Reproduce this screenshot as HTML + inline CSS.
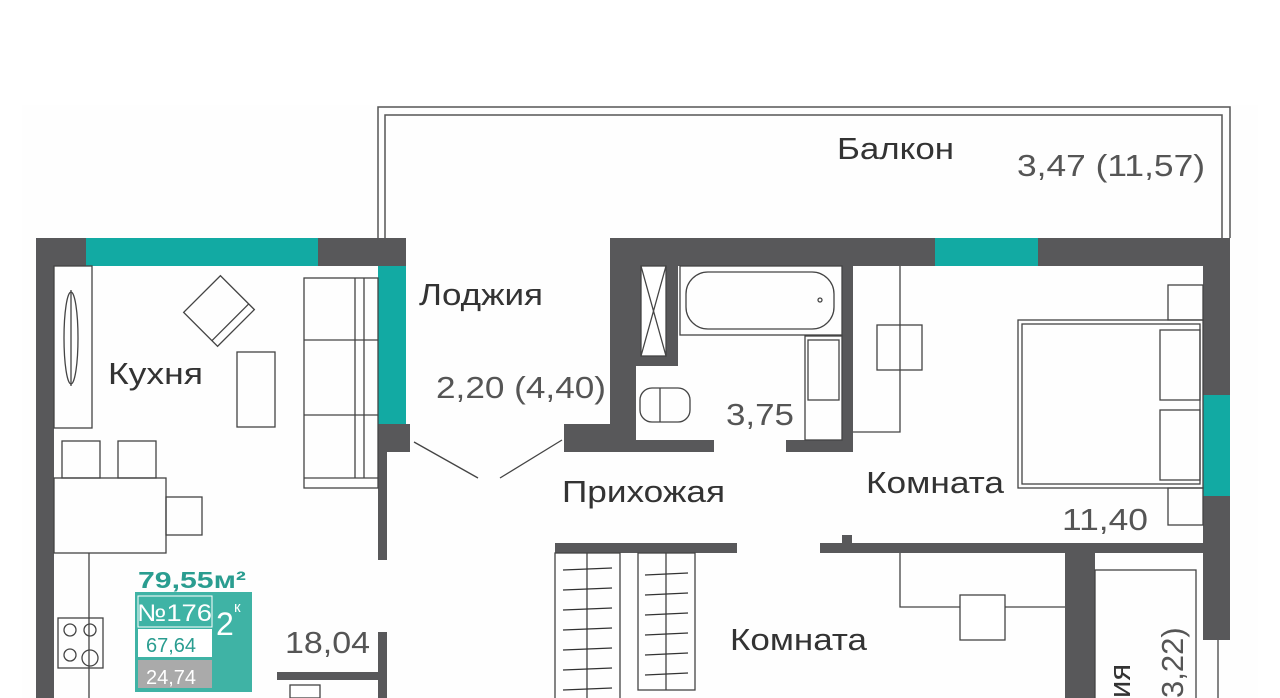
<!DOCTYPE html>
<html><head><meta charset="utf-8"><style>
html,body{margin:0;padding:0;background:#fff;}
svg{display:block;font-family:"Liberation Sans",sans-serif;}
</style></head><body>
<svg width="1280" height="698" viewBox="0 0 1280 698" xmlns="http://www.w3.org/2000/svg">
<rect x="0" y="0" width="1280" height="698" fill="#fff"/>
<rect x="22" y="105" width="1236" height="593" fill="#fefefe"/>
<g fill="none" stroke="#555" stroke-width="1.5">
<path d="M378 238 V107 H1230 V238"/>
<path d="M385 238 V115 H1222 V238"/>
</g>
<g fill="#58585a">
<rect x="36" y="238" width="18" height="460"/>
<rect x="36" y="238" width="370" height="28"/>
<rect x="378" y="238" width="28" height="28"/>
<rect x="378" y="424" width="32" height="28"/>
<rect x="378" y="452" width="9" height="108"/>
<rect x="378" y="632" width="9" height="66"/>
<rect x="277" y="672" width="110" height="8"/>
<rect x="564" y="424" width="72" height="28"/>
<rect x="610" y="238" width="26" height="214"/>
<rect x="610" y="238" width="620" height="28"/>
<rect x="636" y="266" width="42" height="100"/>
<rect x="636" y="440" width="78" height="12"/>
<rect x="786" y="440" width="67" height="12"/>
<rect x="842" y="266" width="11" height="186"/>
<rect x="1203" y="238" width="27" height="402"/>
<rect x="555" y="543" width="182" height="10"/>
<rect x="820" y="543" width="383" height="10"/>
<rect x="842" y="535" width="10" height="8"/>
<rect x="1065" y="553" width="30" height="145"/>
</g>
<g fill="#12aaa3">
<rect x="86" y="238" width="232" height="28"/>
<rect x="378" y="266" width="28" height="158"/>
<rect x="935" y="238" width="103" height="28"/>
<rect x="1203" y="395" width="27" height="101"/>
</g>
<g fill="none" stroke="#444" stroke-width="1.3">
<rect x="54" y="266" width="38" height="162"/>
<ellipse cx="71" cy="338" rx="7" ry="46"/>
<line x1="71" y1="290" x2="71" y2="386"/>
<rect x="62" y="441" width="38" height="37"/>
<rect x="118" y="441" width="38" height="37"/>
<rect x="54" y="478" width="112" height="75"/>
<rect x="166" y="497" width="36" height="38"/>
<line x1="89" y1="553" x2="89" y2="698"/>
<rect x="58" y="618" width="45" height="50"/>
<circle cx="70" cy="630" r="6"/><circle cx="90" cy="630" r="6"/>
<circle cx="70" cy="655" r="6"/><circle cx="90" cy="658" r="8"/>
<g transform="translate(219,311) rotate(-45)"><rect x="-26" y="-24" width="52" height="48"/><line x1="-26" y1="16" x2="26" y2="16"/></g>
<rect x="237" y="352" width="38" height="75"/>
<rect x="304" y="278" width="74" height="210"/>
<line x1="304" y1="340" x2="378" y2="340"/>
<line x1="304" y1="415" x2="378" y2="415"/>
<line x1="304" y1="478" x2="378" y2="478"/>
<line x1="355" y1="278" x2="355" y2="478"/>
<line x1="364" y1="278" x2="364" y2="478"/>
<rect x="290" y="685" width="30" height="13"/>
<line x1="414" y1="442" x2="478" y2="478"/>
<line x1="500" y1="478" x2="562" y2="440"/>
<rect x="641" y="266" width="25" height="90" fill="#fff"/>
<line x1="641" y1="266" x2="666" y2="356"/><line x1="666" y1="266" x2="641" y2="356"/>
<rect x="680" y="266" width="162" height="69"/>
<rect x="686" y="272" width="148" height="57" rx="22"/>
<circle cx="820" cy="300" r="2"/>
<rect x="805" y="336" width="37" height="104"/>
<rect x="808" y="340" width="31" height="60"/>
<rect x="640" y="388" width="50" height="34" rx="12"/>
<line x1="660" y1="388" x2="660" y2="422"/>
<polyline points="853,432 900,432 900,266"/>
<rect x="877" y="325" width="45" height="45"/>
<rect x="1018" y="320" width="185" height="168"/>
<rect x="1022" y="324" width="178" height="160"/>
<rect x="1160" y="330" width="40" height="70"/>
<rect x="1160" y="410" width="40" height="70"/>
<rect x="1168" y="285" width="35" height="35"/>
<rect x="1168" y="488" width="35" height="37"/>
<rect x="555" y="553" width="65" height="150"/>
<line x1="587" y1="553" x2="587" y2="698"/>
<rect x="638" y="553" width="57" height="137"/>
<line x1="666" y1="553" x2="666" y2="690"/>
<polyline points="900,553 900,607 1065,607"/>
<rect x="960" y="595" width="45" height="45" fill="#fff"/>
<rect x="1095" y="570" width="101" height="140"/>
<line x1="1218" y1="640" x2="1218" y2="698"/>
</g>
<g stroke="#333" stroke-width="1.2">
<line x1="563" y1="570" x2="612" y2="568"/><line x1="563" y1="590" x2="612" y2="588"/>
<line x1="563" y1="610" x2="612" y2="608"/><line x1="563" y1="630" x2="612" y2="628"/>
<line x1="563" y1="650" x2="612" y2="648"/><line x1="563" y1="670" x2="612" y2="668"/>
<line x1="563" y1="690" x2="612" y2="688"/>
<line x1="645" y1="575" x2="688" y2="573"/><line x1="645" y1="595" x2="688" y2="593"/>
<line x1="645" y1="615" x2="688" y2="613"/><line x1="645" y1="635" x2="688" y2="633"/>
<line x1="645" y1="655" x2="688" y2="653"/><line x1="645" y1="675" x2="688" y2="673"/>
</g>
<g fill="#333" font-size="31" lengthAdjust="spacingAndGlyphs">
<text x="837" y="159" textLength="117" lengthAdjust="spacingAndGlyphs">Балкон</text>
<text x="419" y="305" textLength="124" lengthAdjust="spacingAndGlyphs">Лоджия</text>
<text x="108" y="384" textLength="95" lengthAdjust="spacingAndGlyphs">Кухня</text>
<text x="562" y="502" textLength="163" lengthAdjust="spacingAndGlyphs">Прихожая</text>
<text x="866" y="493" textLength="138" lengthAdjust="spacingAndGlyphs">Комната</text>
<text x="730" y="650" textLength="137" lengthAdjust="spacingAndGlyphs">Комната</text>
</g>
<g fill="#555" font-size="31">
<text x="1017" y="176" textLength="188" lengthAdjust="spacingAndGlyphs">3,47 (11,57)</text>
<text x="436" y="398" textLength="170" lengthAdjust="spacingAndGlyphs">2,20 (4,40)</text>
<text x="726" y="425" textLength="68" lengthAdjust="spacingAndGlyphs">3,75</text>
<text x="1062" y="530" textLength="86" lengthAdjust="spacingAndGlyphs">11,40</text>
<text x="285" y="653" textLength="85" lengthAdjust="spacingAndGlyphs">18,04</text>
<text transform="translate(1130,698) rotate(-90)" fill="#333">ия</text>
<text transform="translate(1183,698) rotate(-90)">3,22)</text>
</g>
<text x="138" y="588" fill="#2a9d90" font-size="23" font-weight="bold" textLength="108" lengthAdjust="spacingAndGlyphs">79,55м²</text>
<rect x="135" y="592" width="117" height="100" fill="#3fb3a5"/>
<rect x="138" y="596" width="74" height="31" fill="#3fb3a5" stroke="#fff" stroke-width="1"/>
<text x="137" y="621" fill="#fff" font-size="24" textLength="75" lengthAdjust="spacingAndGlyphs">№176</text>
<rect x="138" y="629" width="74" height="28" fill="#fff"/>
<text x="146" y="652" fill="#2a9d90" font-size="20">67,64</text>
<rect x="138" y="660" width="74" height="28" fill="#aaa"/>
<text x="146" y="684" fill="#fff" font-size="20">24,74</text>
<text x="216" y="635" fill="#fff" font-size="32">2</text>
<text x="234" y="612" fill="#fff" font-size="15">к</text>
</svg>
</body></html>
